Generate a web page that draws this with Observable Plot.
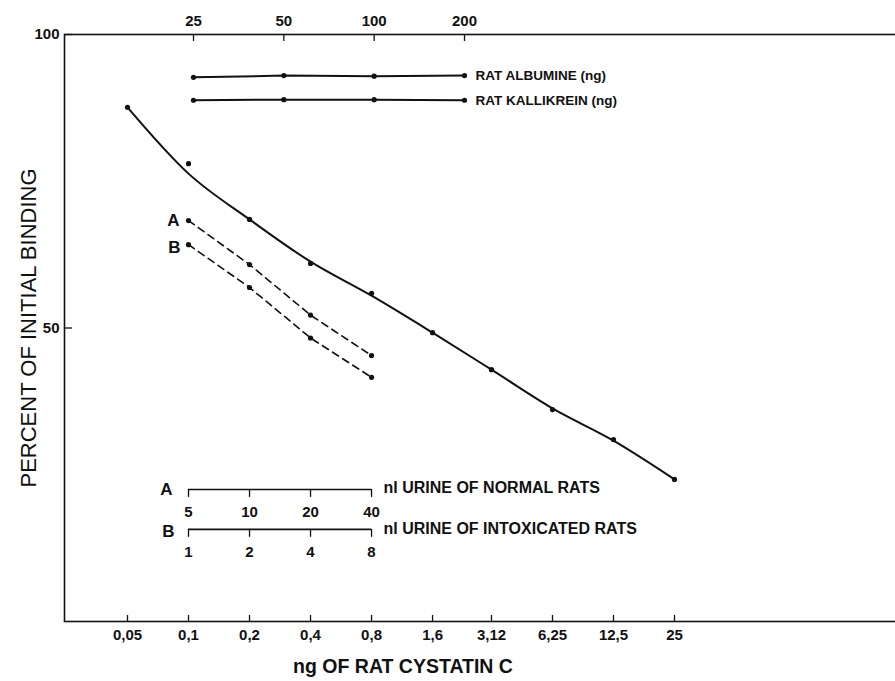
<!DOCTYPE html>
<html><head><meta charset="utf-8">
<script src="https://cdn.jsdelivr.net/npm/d3@7"></script>
<script src="https://cdn.jsdelivr.net/npm/@observablehq/plot@0.6"></script>
<style>
body{margin:0;background:#fff;}
#wrap{position:relative;width:895px;height:681px;background:#fff;}
#wrap svg{position:absolute;left:0;top:0;}
</style></head><body><div id="wrap"></div>
<script>
// ---- data ----
const doses = [0.05, 0.1, 0.2, 0.4, 0.8, 1.6, 3.125, 6.25, 12.5, 25];
const doseLabels = ["0,05","0,1","0,2","0,4","0,8","1,6","3,12","6,25","12,5","25"];
const cystatinMeasured = [87.6, 78.0, 68.5, 61.0, 55.9, 49.2, 42.9, 36.1, 31.0, 24.2];
const cystatinFitted   = [87.6, 76.3, 68.5, 61.3, 55.5, 49.2, 42.9, 36.3, 30.8, 24.2];
const yTicks = [50, 100];

const urineEquivalentDose = [0.1, 0.2, 0.4, 0.8];
const urineA = [5, 10, 20, 40];
const urineB = [1, 2, 4, 8];
const bindingA = [68.3, 60.8, 52.2, 45.3];
const bindingB = [64.2, 56.9, 48.3, 41.6];

const proteinNg = [25, 50, 100, 200];
const albuminBinding = [92.7, 93.0, 92.9, 93.0];
const kallikreinBinding = [88.8, 88.9, 88.9, 88.8];

// ---- layout ----
const W = 895, H = 681;
const INK = "#111";
const FONT = "'Liberation Sans', Arial, Helvetica, sans-serif";
const miniAxisA = 22.5, miniAxisB = 15.7; // y levels of the A / B urine scales

const zip = (xs, ys) => xs.map((x, i) => ({x, y: ys[i], i}));
const base = {
  width: W, height: H, marginLeft: 64, marginRight: -2, marginTop: 34, marginBottom: 60,
  y: {domain: [0, 100], range: [621, 34], axis: null},
  style: {fontFamily: FONT, fontSize: "15px", color: INK, background: "transparent", overflow: "visible"}
};

const mainChart = Plot.plot({
  ...base,
  x: {type: "log", domain: [0.05, 25], range: [127, 674], axis: null},
  marks: [
    Plot.frame({stroke: INK, strokeWidth: 1.6}),
    // bottom axis
    Plot.ruleX(doses, {x: d => d, y1: 0, y2: 0, insetTop: -6, stroke: INK, strokeWidth: 1.3}),
    Plot.text(doses, {x: d => d, y: 0, dy: 14, text: (d, i) => doseLabels[i], fontWeight: "bold", fontSize: 15, fill: INK}),
    Plot.text(["ng OF RAT CYSTATIN C"], {frameAnchor: "bottom", textAnchor: "middle", dx: -78, dy: 51, fontSize: 19.5, fontWeight: "bold", fill: INK}),
    // left axis
    Plot.ruleY(yTicks, {y: d => d, insetRight: 825, stroke: INK, strokeWidth: 1.3}),
    Plot.text(yTicks, {y: d => d, frameAnchor: "left", dx: -5, textAnchor: "end", text: d => String(d), fontWeight: "bold", fontSize: 15, fill: INK}),
    Plot.text(["PERCENT OF INITIAL BINDING"], {frameAnchor: "left", textAnchor: "middle", dx: -36, dy: 0, rotate: -90, fontSize: 22, fill: INK}),
    // cystatin standard curve
    Plot.line(zip(doses, cystatinFitted), {x: "x", y: "y", curve: "monotone-x", stroke: INK, strokeWidth: 2}),
    Plot.dot(zip(doses, cystatinMeasured), {x: "x", y: "y", r: 2.6, fill: INK}),
    // urine dilutions A and B
    Plot.line(zip(urineEquivalentDose, bindingA), {x: "x", y: "y", stroke: INK, strokeWidth: 1.6, strokeDasharray: "7,5"}),
    Plot.dot(zip(urineEquivalentDose, bindingA), {x: "x", y: "y", r: 2.6, fill: INK}),
    Plot.line(zip(urineEquivalentDose, bindingB), {x: "x", y: "y", stroke: INK, strokeWidth: 1.6, strokeDasharray: "7,5"}),
    Plot.dot(zip(urineEquivalentDose, bindingB), {x: "x", y: "y", r: 2.6, fill: INK}),
    Plot.text(["A"], {x: urineEquivalentDose[0], y: bindingA[0], dx: -15, fontWeight: "bold", fontSize: 17, fill: INK}),
    Plot.text(["B"], {x: urineEquivalentDose[0], y: bindingB[0], dx: -14, dy: 3, fontWeight: "bold", fontSize: 17, fill: INK}),
    // mini scale A
    Plot.ruleY([miniAxisA], {y: d => d, x1: urineEquivalentDose[0], x2: urineEquivalentDose[3], stroke: INK, strokeWidth: 1.6}),
    Plot.ruleX(urineEquivalentDose, {x: d => d, y1: miniAxisA, y2: miniAxisA, insetBottom: -8, stroke: INK, strokeWidth: 1.3}),
    Plot.text(urineEquivalentDose, {x: d => d, y: miniAxisA, dy: 23, text: (d, i) => String(urineA[i]), fontWeight: "bold", fontSize: 15, fill: INK}),
    Plot.text(["A"], {x: urineEquivalentDose[0], y: miniAxisA, dx: -22, fontWeight: "bold", fontSize: 17, fill: INK}),
    Plot.text(["nl URINE OF NORMAL RATS"], {x: urineEquivalentDose[3], y: miniAxisA, dx: 12, dy: -2, textAnchor: "start", fontWeight: "bold", fontSize: 16, fill: INK}),
    // mini scale B
    Plot.ruleY([miniAxisB], {y: d => d, x1: urineEquivalentDose[0], x2: urineEquivalentDose[3], stroke: INK, strokeWidth: 1.6}),
    Plot.ruleX(urineEquivalentDose, {x: d => d, y1: miniAxisB, y2: miniAxisB, insetBottom: -8, stroke: INK, strokeWidth: 1.3}),
    Plot.text(urineEquivalentDose, {x: d => d, y: miniAxisB, dy: 23, text: (d, i) => String(urineB[i]), fontWeight: "bold", fontSize: 15, fill: INK}),
    Plot.text(["B"], {x: urineEquivalentDose[0], y: miniAxisB, dx: -20, dy: 2, fontWeight: "bold", fontSize: 17, fill: INK}),
    Plot.text(["nl URINE OF INTOXICATED RATS"], {x: urineEquivalentDose[3], y: miniAxisB, dx: 12, textAnchor: "start", fontWeight: "bold", fontSize: 16, fill: INK})
  ]
});

const topChart = Plot.plot({
  ...base,
  x: {type: "log", domain: [25, 200], range: [193, 464], axis: null},
  marks: [
    Plot.ruleX(proteinNg, {x: d => d, y1: 100, y2: 100, insetBottom: -7, stroke: INK, strokeWidth: 1.3}),
    Plot.text(proteinNg, {x: d => d, y: 100, dy: -13, text: d => String(d), fontWeight: "bold", fontSize: 15, fill: INK}),
    Plot.line(zip(proteinNg, albuminBinding), {x: "x", y: "y", stroke: INK, strokeWidth: 2}),
    Plot.dot(zip(proteinNg, albuminBinding), {x: "x", y: "y", r: 2.6, fill: INK}),
    Plot.line(zip(proteinNg, kallikreinBinding), {x: "x", y: "y", stroke: INK, strokeWidth: 2}),
    Plot.dot(zip(proteinNg, kallikreinBinding), {x: "x", y: "y", r: 2.6, fill: INK}),
    Plot.text(["RAT ALBUMINE (ng)"], {x: proteinNg[3], y: albuminBinding[3], dx: 11, textAnchor: "start", fontWeight: "bold", fontSize: 13.5, fill: INK}),
    Plot.text(["RAT KALLIKREIN (ng)"], {x: proteinNg[3], y: kallikreinBinding[3], dx: 11, textAnchor: "start", fontWeight: "bold", fontSize: 13.5, fill: INK})
  ]
});

const wrap = document.getElementById("wrap");
wrap.appendChild(mainChart);
wrap.appendChild(topChart);
</script></body></html>
